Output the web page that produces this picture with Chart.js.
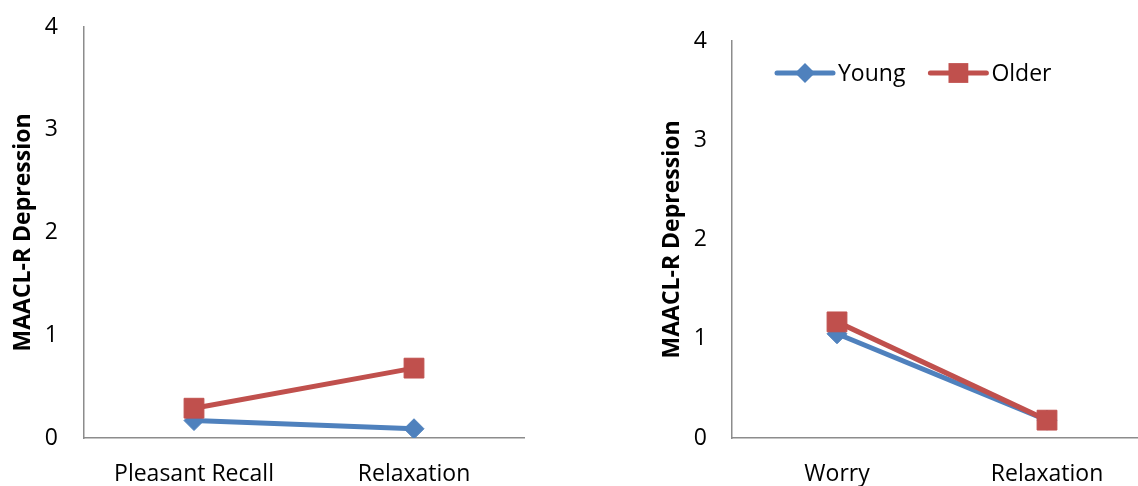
<!DOCTYPE html>
<html><head><meta charset="utf-8">
<script src="https://cdn.jsdelivr.net/npm/chart.js@4/dist/chart.umd.min.js"></script>
<style>
html,body{margin:0;padding:0;background:#fff;overflow:hidden;width:1138px;height:486px;}
.wrap{position:absolute;top:0;height:486px;}
canvas{display:block;}
</style></head><body>
<div class="wrap" style="left:0;width:560px"><canvas id="c1" width="560" height="486"></canvas></div>
<div class="wrap" style="left:648px;width:520px"><canvas id="c2" width="520" height="486"></canvas></div>
<script>
// ---- data ----
const seriesNames = ['Young', 'Older'];
const leftCategories = ['Pleasant Recall', 'Relaxation'];
const leftYoung = [0.17, 0.09];
const leftOlder = [0.29, 0.68];
const rightCategories = ['Worry', 'Relaxation'];
const rightYoung = [1.05, 0.18];
const rightOlder = [1.17, 0.18];
const yTickValues = [0, 1, 2, 3, 4];
const yAxisTitle = 'MAACL-R Depression';

// ---- style ----
const BLUE = '#4F81BD';
const RED = '#C0504D';
const AXIS = '#8C8C8C';
const FONT = "'Open Sans', sans-serif";

function makeDatasets(young, older) {
  return [
    { label: seriesNames[0], data: young, borderColor: BLUE, backgroundColor: BLUE,
      borderWidth: 5, pointStyle: 'rectRot', pointRadius: 10, pointBorderWidth: 1,
      pointBorderColor: BLUE, pointBackgroundColor: BLUE, tension: 0, order: 1 },
    { label: seriesNames[1], data: older, borderColor: RED, backgroundColor: RED,
      borderWidth: 5, pointStyle: 'rect', pointRadius: 14, pointBorderWidth: 1,
      pointBorderColor: RED, pointBackgroundColor: RED, tension: 0, order: 0 }
  ];
}

const lineLegend = {
  id: 'lineLegend',
  afterDraw(chart, args, opts) {
    if (!opts.show) return;
    const ctx = chart.ctx;
    const ca = chart.chartArea;
    let x = ca.left + opts.dx;
    const y = ca.top + opts.dy;
    ctx.save();
    ctx.font = '23px ' + FONT;
    ctx.textBaseline = 'middle';
    ctx.textAlign = 'left';
    chart.data.datasets.forEach((ds) => {
      const lineLen = 56;
      ctx.strokeStyle = ds.borderColor;
      ctx.lineWidth = 5;
      ctx.lineCap = 'round';
      ctx.beginPath();
      ctx.moveTo(x, y); ctx.lineTo(x + lineLen, y); ctx.stroke();
      ctx.fillStyle = ds.pointBackgroundColor;
      ctx.beginPath();
      const r = ds.pointRadius;
      const cx = x + lineLen / 2;
      if (ds.pointStyle === 'rect') {
        const s = r * Math.SQRT1_2;
        ctx.rect(cx - s, y - s, 2 * s, 2 * s);
      } else {
        ctx.moveTo(cx, y - r);
        ctx.lineTo(cx + r, y);
        ctx.lineTo(cx, y + r);
        ctx.lineTo(cx - r, y);
        ctx.closePath();
      }
      ctx.fill();
      ctx.fillStyle = '#000';
      ctx.fillText(ds.label, x + lineLen + 5, y + 1);
      x += lineLen + 5 + ctx.measureText(ds.label).width + 25;
    });
    ctx.restore();
  }
};

function makeChart(id, cats, young, older, cfg) {
  return new Chart(document.getElementById(id), {
    type: 'line',
    data: { labels: cats, datasets: makeDatasets(young, older) },
    plugins: [lineLegend],
    options: {
      responsive: false,
      animation: false,
      devicePixelRatio: 1,
      layout: { padding: { top: cfg.top, right: cfg.right, left: 0, bottom: 0 } },
      plugins: {
        legend: { display: false },
        tooltip: { enabled: false },
        lineLegend: { show: cfg.legend, dx: 45, dy: 32 }
      },
      scales: {
        x: {
          type: 'category',
          offset: true,
          grid: { display: false, drawTicks: false },
          border: { display: true, color: AXIS, width: 1.5 },
          ticks: { color: '#000', font: { family: FONT, size: 23 }, padding: 23, maxRotation: 0, autoSkip: false },
          afterFit(s) { s.height = 48; }
        },
        y: {
          min: 0, max: 4,
          afterBuildTicks(s) { s.ticks = yTickValues.map(v => ({ value: v })); },
          grid: { display: false, drawTicks: false },
          border: { display: true, color: AXIS, width: 1.5 },
          ticks: { color: '#000', font: { family: FONT, size: 23 }, padding: cfg.tickPad },
          title: { display: true, text: yAxisTitle, color: '#000',
                   font: { family: FONT, size: 23, weight: 'bold' }, padding: { top: cfg.titlePad, bottom: 0 } },
          afterFit(s) { s.width = 84; s.paddingTop = 0; s.paddingBottom = 0; }
        }
      }
    }
  });
}

makeChart('c1', leftCategories, leftYoung, leftOlder,
  { top: 27, right: 36, tickPad: 26, titlePad: 10, legend: false });
makeChart('c2', rightCategories, rightYoung, rightOlder,
  { top: 41, right: 16, tickPad: 25, titlePad: 11, legend: true });
</script>
</body></html>
